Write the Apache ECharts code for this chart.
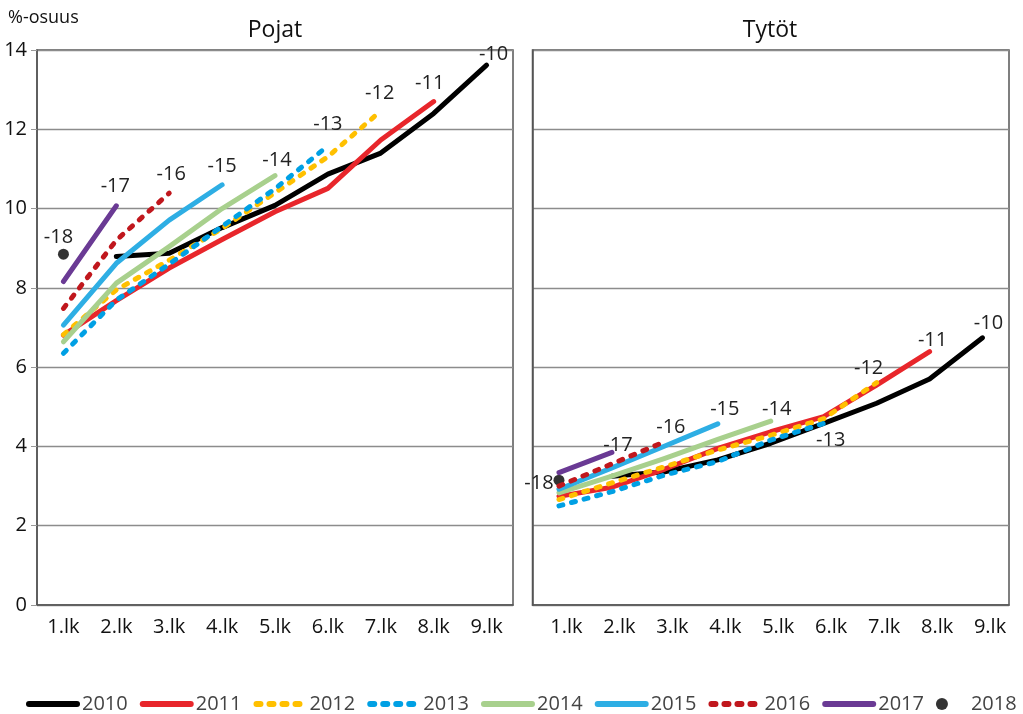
<!DOCTYPE html>
<html><head><meta charset="utf-8">
<script src="https://cdn.jsdelivr.net/npm/echarts@6/dist/echarts.min.js"></script>
<style>html,body{margin:0;padding:0;background:#fff}#c{width:1023px;height:714px}</style>
</head><body><div id="c"></div>
<script>
const categories = ['1.lk','2.lk','3.lk','4.lk','5.lk','6.lk','7.lk','8.lk','9.lk'];
const years = ['2010','2011','2012','2013','2014','2015','2016','2017','2018'];
const yMin = 0, yMax = 14, yStep = 2;

// Pojat (boys)
const pojat2010 = [null, 8.79, 8.87, 9.52, 10.08, 10.87, 11.40, 12.40, 13.62];
const pojat2011 = [6.81, 7.68, 8.50, 9.22, 9.92, 10.51, 11.73, 12.70, null];
const pojat2012 = [6.82, 7.95, 8.70, 9.50, 10.40, 11.31, 12.46, null, null];
const pojat2013 = [6.35, 7.69, 8.60, 9.55, 10.50, 11.58, null, null, null];
const pojat2014 = [6.64, 8.12, 9.04, 10.00, 10.83, null, null, null, null];
const pojat2015 = [7.06, 8.62, 9.71, 10.60, null, null, null, null, null];
const pojat2016 = [7.48, 9.20, 10.39, null, null, null, null, null, null];
const pojat2017 = [8.16, 10.07, null, null, null, null, null, null, null];
const pojat2018 = [8.85];

// Tytöt (girls)
const tytot2010 = [null, 3.25, 3.36, 3.66, 4.08, 4.58, 5.09, 5.70, 6.74];
const tytot2011 = [2.74, 2.97, 3.43, 3.95, 4.37, 4.75, 5.55, 6.39, null];
const tytot2012 = [2.66, 3.08, 3.49, 3.91, 4.28, 4.70, 5.61, null, null];
const tytot2013 = [2.50, 2.86, 3.28, 3.62, 4.16, 4.58, null, null, null];
const tytot2014 = [2.83, 3.25, 3.70, 4.18, 4.64, null, null, null, null];
const tytot2015 = [2.92, 3.46, 4.01, 4.57, null, null, null, null, null];
const tytot2016 = [3.00, 3.56, 4.12, null, null, null, null, null, null];
const tytot2017 = [3.34, 3.85, null, null, null, null, null, null, null];
const tytot2018 = [3.15];

// styles (not data)
const colors = ['#000000','#e8262b','#ffc000','#00a0e4','#a8d08d','#2eaee4','#c0171d','#6a3a94','#000000'];
const dashed = [false,false,true,true,false,false,true,false];
const pojatLabelOffsets = [[7,-11],[-4,-18],[-1,-18],[0,-22],[2,-15],[0,-18],[2,-19],[-1,-19],[-5,-17]];
const tytotLabelOffsets = [[6,-15],[3,-11],[-8,-14],[7,17],[6,-12],[7,-15],[6,-14],[6,-7],[-20,3]];
const FONT = 'Open Sans';

function lastIdx(arr){ for(let i=arr.length-1;i>=0;i--){ if(arr[i]!=null) return i; } return 0; }

function endMark(arr, k, offsets){
  const li = lastIdx(arr);
  return {
    symbol:'circle', symbolSize:0, silent:true, animation:false,
    label:{show:true, position:'inside', offset:offsets[k], formatter:'-'+years[k].slice(2),
      color:'#222', fontSize:20, fontFamily:FONT},
    data:[{coord:[categories[li], arr[li]]}]
  };
}

function panelSeries(lineArrs, dotArr, idx, offsets){
  const out = [];
  lineArrs.forEach((arr,k)=>{
    out.push({
      type:'line', name:years[k], xAxisIndex:idx, yAxisIndex:idx,
      data:arr, symbol:'none', showSymbol:false, silent:true, animation:false,
      lineStyle:{color:colors[k], width:5, type:dashed[k]?[4,9]:'solid', cap:'round', join:'round'},
      itemStyle:{color:colors[k]},
      markPoint:endMark(arr,k,offsets)
    });
  });
  out.push({
    type:'scatter', name:years[8], xAxisIndex:idx, yAxisIndex:idx,
    data:dotArr, symbol:'circle', symbolSize:11, silent:true, animation:false,
    itemStyle:{color:colors[8]},
    markPoint:endMark(dotArr,8,offsets)
  });
  return out;
}

const axisTxt = {color:'#111', fontSize:20, fontFamily:FONT};
const chart = echarts.init(document.getElementById('c'), null, {renderer:'canvas'});
chart.setOption({
  animation:false,
  backgroundColor:'#fff',
  grid:[
    {left:37, top:50, width:476, height:555, show:true, borderColor:'#555', borderWidth:1.5, containLabel:false},
    {left:532.5, top:50, width:476.5, height:555, show:true, borderColor:'#555', borderWidth:1.5, containLabel:false},
    {left:540, top:50, width:476.5, height:555, show:false, containLabel:false}
  ],
  xAxis:[
    {gridIndex:0, type:'category', data:categories, boundaryGap:true,
      axisLine:{lineStyle:{color:'#555', width:1.5}},
      axisTick:{alignWithLabel:true, length:8, lineStyle:{color:'#555', width:1.5}},
      axisLabel:Object.assign({margin:12}, axisTxt)},
    {gridIndex:1, type:'category', data:categories, boundaryGap:true,
      axisLine:{lineStyle:{color:'#555', width:1.5}}, axisTick:{show:false}, axisLabel:{show:false}},
    {gridIndex:2, type:'category', data:categories, boundaryGap:true,
      axisLine:{show:false},
      axisTick:{alignWithLabel:true, length:8, lineStyle:{color:'#555', width:1.5}},
      axisLabel:Object.assign({margin:12}, axisTxt)}
  ],
  yAxis:[
    {gridIndex:0, type:'value', min:yMin, max:yMax, interval:yStep,
      axisLine:{show:true, lineStyle:{color:'#555', width:1.5}},
      axisTick:{show:true, length:6, lineStyle:{color:'#999'}},
      axisLabel:Object.assign({margin:10}, axisTxt),
      splitLine:{lineStyle:{color:'#8c8c8c', width:1.3}}},
    {gridIndex:1, type:'value', min:yMin, max:yMax, interval:yStep,
      axisLine:{show:true, lineStyle:{color:'#555', width:1.5}},
      axisTick:{show:false}, axisLabel:{show:false},
      splitLine:{lineStyle:{color:'#8c8c8c', width:1.3}}},
    {gridIndex:2, type:'value', min:yMin, max:yMax, interval:yStep, show:false}
  ],
  legend:{
    top:689, left:21, itemWidth:48, itemHeight:12, itemGap:12,
    textStyle:{color:'#444', fontSize:20, fontFamily:FONT},
    lineStyle:{width:6, cap:'round'},
    data:years.map((y,i)=> i<8 ? {name:y, itemStyle:{opacity:0}} : {name:y, icon:'circle'})
  },
  graphic:[
    {type:'text', x:8, y:18, style:{text:'%-osuus', fill:'#111', fontSize:18, fontFamily:FONT, textAlign:'left', textVerticalAlign:'middle', align:'left', verticalAlign:'middle'}},
    {type:'text', x:275, y:30, style:{text:'Pojat', fill:'#111', fontSize:23, fontFamily:FONT, textAlign:'center', textVerticalAlign:'middle', align:'center', verticalAlign:'middle'}},
    {type:'text', x:770, y:30, style:{text:'Tytöt', fill:'#111', fontSize:23, fontFamily:FONT, textAlign:'center', textVerticalAlign:'middle', align:'center', verticalAlign:'middle'}}
  ],
  series:[].concat(
    panelSeries([pojat2010,pojat2011,pojat2012,pojat2013,pojat2014,pojat2015,pojat2016,pojat2017], pojat2018, 0, pojatLabelOffsets),
    panelSeries([tytot2010,tytot2011,tytot2012,tytot2013,tytot2014,tytot2015,tytot2016,tytot2017], tytot2018, 1, tytotLabelOffsets)
  )
});
</script></body></html>
